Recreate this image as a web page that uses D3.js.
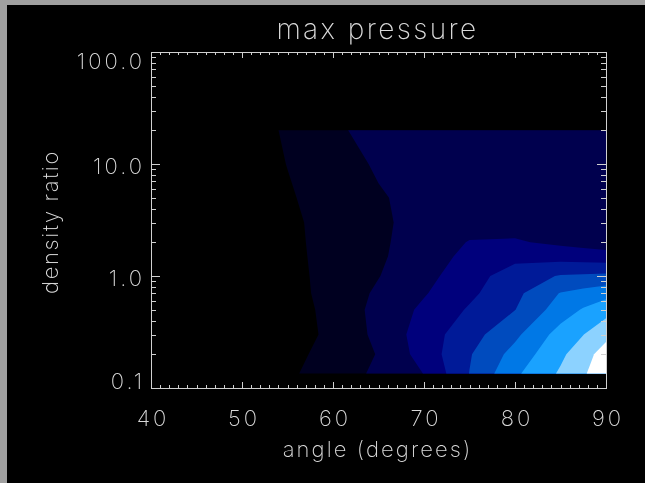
<!DOCTYPE html>
<html><head><meta charset="utf-8">
<script src="https://cdn.jsdelivr.net/npm/d3@7"></script>
<style>html,body{margin:0;padding:0;background:#000;overflow:hidden}
text{font-family:"Inter","DejaVu Sans",sans-serif;font-weight:200;fill:#dcdcdc}
.labels{opacity:0.99}</style>
</head><body>
<script>
// ---- data ----
const angles = [40, 50, 55, 60, 65, 70, 75, 80, 85, 87.5, 90];            // degrees
const densityRatios = [0.135, 0.2, 0.3, 0.5, 0.7, 1, 1.5, 2, 3, 5, 10, 20];
// max pressure (in contour-level units), one row per density ratio, one column per angle
const pressure = [
  [0, 0.16, 0.83, 1.49, 2.19, 3.02, 5.02, 6.82, 8.13, 8.78, 10.2],
  [0, 0.05, 0.69, 1.36, 2.05, 3.42, 4.92, 6.35, 7.81, 8.55, 9.5],
  [0, 0.00, 0.40, 1.28, 2.23, 3.49, 4.60, 5.78, 7.40, 7.98, 8.7],
  [0, 0.00, 0.44, 1.36, 2.28, 3.20, 4.11, 4.98, 6.49, 7.09, 7.63],
  [0, 0.00, 0.59, 1.38, 2.15, 2.92, 3.79, 4.75, 6.05, 6.34, 6.64],
  [0, 0.05, 0.69, 1.33, 1.97, 2.69, 3.58, 4.50, 5.07, 5.15, 5.23],
  [0, 0.21, 0.76, 1.31, 1.86, 2.53, 3.25, 3.70, 3.60, 3.50, 3.4],
  [0, 0.24, 0.79, 1.31, 1.84, 2.44, 3.05, 3.10, 2.80, 2.65, 2.5],
  [0, 0.30, 0.81, 1.33, 1.85, 2.30, 2.60, 2.60, 2.55, 2.50, 2.5],
  [0, 0.39, 0.90, 1.40, 1.91, 2.30, 2.50, 2.50, 2.50, 2.50, 2.5],
  [0, 0.47, 1.02, 1.57, 2.12, 2.40, 2.50, 2.50, 2.50, 2.50, 2.5],
  [0, 0.47, 1.13, 1.85, 2.30, 2.40, 2.50, 2.50, 2.50, 2.50, 2.5]
];
const levels = [1, 2, 3, 4, 5, 6, 7, 8, 9];
const levelColors = ["#000020", "#00004e", "#00007c", "#001a98", "#004bbe", "#0078e6", "#1aa2ff", "#8cd2ff", "#ffffff"];
const xTicks = [40, 50, 60, 70, 80, 90];
const xTickLabels = ["40", "50", "60", "70", "80", "90"];
const yTicks = [0.1, 1, 10, 100];
const yTickLabels = ["0.1", "1.0", "10.0", "100.0"];
const title = "max pressure";
const xTitle = "angle (degrees)";
const yTitle = "density ratio";

// ---- drawing ----
const W = 645, H = 483;
const L = 151, R = 606, T = 52, B = 388;
const svg = d3.select("body").append("svg").attr("width", W).attr("height", H);
svg.append("rect").attr("width", W).attr("height", H).attr("fill", "#000");
svg.append("rect").attr("width", W).attr("height", 5).attr("fill", "#a0a0a0");
svg.append("rect").attr("width", 7).attr("height", H).attr("fill", "#a0a0a0");

const x = d3.scaleLinear().domain([40, 90]).range([L, R]);
const y = d3.scaleLog().domain([0.1, 100]).range([B, T]);

// filled contours
const n = angles.length, m = densityRatios.length;
const flat = pressure.flat();
const bands = d3.contours().size([n, m]).thresholds(levels)(flat);
const gx = angles.map(a => x(a)), gy = densityRatios.map(r => y(r));
function interp(arr, c) {
  const t = Math.max(0, Math.min(arr.length - 1, c - 0.5));
  const i = Math.min(Math.floor(t), arr.length - 2);
  const f = t - i;
  return arr[i] + (arr[i + 1] - arr[i]) * f;
}
const proj = d3.geoTransform({ point(px, py) { this.stream.point(interp(gx, px), interp(gy, py)); } });
const path = d3.geoPath(proj);
svg.append("g").selectAll("path").data(bands).join("path")
  .attr("d", path).attr("fill", (d, i) => levelColors[i]).attr("stroke", "none");

// axes
const axisColor = "#d0d0d0";
const minorX = x.ticks(50).filter(v => !xTicks.includes(v));
const minorY = y.ticks().filter(v => !yTicks.some(t => Math.abs(t - v) < 1e-9));
function styleAxis(g) {
  g.selectAll("path,line").attr("stroke", axisColor).attr("shape-rendering", "crispEdges");
  g.selectAll("text").remove();
}
svg.append("g").attr("transform", `translate(0,${B})`).call(d3.axisBottom(x).tickValues(xTicks).tickSize(-6).tickSizeOuter(0)).call(styleAxis);
svg.append("g").attr("transform", `translate(0,${B})`).call(d3.axisBottom(x).tickValues(minorX).tickSize(-3).tickSizeOuter(0)).call(styleAxis);
svg.append("g").attr("transform", `translate(0,${T})`).call(d3.axisTop(x).tickValues(xTicks).tickSize(-6).tickSizeOuter(0)).call(styleAxis);
svg.append("g").attr("transform", `translate(0,${T})`).call(d3.axisTop(x).tickValues(minorX).tickSize(-3).tickSizeOuter(0)).call(styleAxis);
svg.append("g").attr("transform", `translate(${L},0)`).call(d3.axisLeft(y).tickValues(yTicks).tickSize(-9).tickSizeOuter(0)).call(styleAxis);
svg.append("g").attr("transform", `translate(${L},0)`).call(d3.axisLeft(y).tickValues(minorY).tickSize(-5).tickSizeOuter(0)).call(styleAxis);
svg.append("g").attr("transform", `translate(${R},0)`).call(d3.axisRight(y).tickValues(yTicks).tickSize(-9).tickSizeOuter(0)).call(styleAxis);
svg.append("g").attr("transform", `translate(${R},0)`).call(d3.axisRight(y).tickValues(minorY).tickSize(-5).tickSizeOuter(0)).call(styleAxis);

const lab = svg.append("g").attr("class", "labels");
// tick labels
const tls = 3;
lab.append("g").selectAll("text").data(xTicks).join("text")
  .attr("x", d => x(d) + 0.5 + tls / 2).attr("y", 426).attr("text-anchor", "middle")
  .style("font-size", "22px").style("letter-spacing", tls + "px").text((d, i) => xTickLabels[i]);
lab.append("g").selectAll("text").data(yTicks).join("text")
  .attr("x", 142 + tls).attr("y", d => Math.max(T + 9, Math.min(B - 7, y(d) + 2)) + 8)
  .attr("text-anchor", "end").style("font-size", "22px").style("letter-spacing", tls + "px")
  .text((d, i) => yTickLabels[i]);

// titles
lab.append("text").attr("x", (L + R) / 2 - 1).attr("y", 39).attr("text-anchor", "middle")
  .style("font-size", "28px").style("letter-spacing", "2.4px").text(title);
lab.append("text").attr("x", (L + R) / 2 - 1).attr("y", 457).attr("text-anchor", "middle")
  .style("font-size", "22px").style("letter-spacing", "2.1px").text(xTitle);
lab.append("text").attr("transform", `translate(58,${(T + B) / 2 + 2}) rotate(-90)`).attr("text-anchor", "middle")
  .style("font-size", "22px").style("letter-spacing", "1.65px").text(yTitle);
</script>
</body></html>
